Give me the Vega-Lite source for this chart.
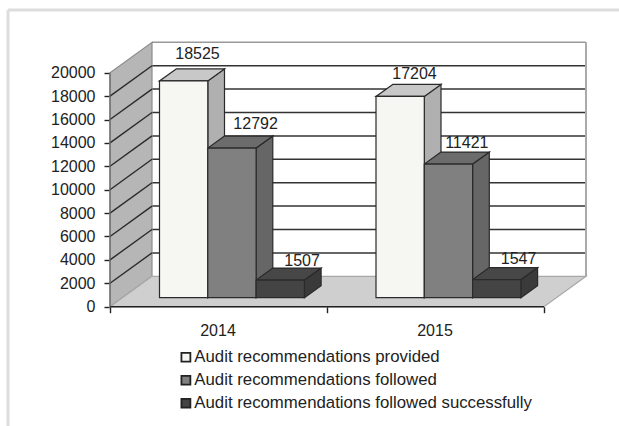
{
"$schema":"https://vega.github.io/schema/vega-lite/v6.json",
"width":619,"height":426,"padding":0,"autosize":{"type":"none"},"background":"#ffffff",
"config":{"view":{"stroke":null},"font":"Liberation Sans","text":{"font":"Liberation Sans"}},
"datasets":{
"bars":[
{"year":"2014","series":"Audit recommendations provided","value":18525},
{"year":"2014","series":"Audit recommendations followed","value":12792},
{"year":"2014","series":"Audit recommendations followed successfully","value":1507},
{"year":"2015","series":"Audit recommendations provided","value":17204},
{"year":"2015","series":"Audit recommendations followed","value":11421},
{"year":"2015","series":"Audit recommendations followed successfully","value":1547}
],
"ticks":[{"t":2000},{"t":4000},{"t":6000},{"t":8000},{"t":10000},{"t":12000},{"t":14000},{"t":16000},{"t":18000},{"t":20000}],
"depth":[{"d":0},{"d":1}]
},
"layer":[
{"data":{"name":"ticks"},"transform":[{"calculate":"datum.t+2598","as":"t2"},{"filter":"datum.t<20000"}],
 "mark":{"type":"rule","color":"#333333","strokeWidth":1.5},
 "encoding":{
  "x":{"datum":152,"type":"quantitative","scale":{"domain":[0,619],"nice":false,"zero":false},
    "axis":{"values":[110,327,544],"offset":-119.3,"orient":"bottom","domain":false,"grid":false,"labels":false,"tickSize":6,"tickColor":"#222222","tickWidth":1.4,"title":null}},
  "x2":{"datum":586},
  "y":{"field":"t2","type":"quantitative","scale":{"domain":[-10197,26214],"nice":false,"zero":false},
    "axis":{"values":[0,2000,4000,6000,8000,10000,12000,14000,16000,18000,20000],"format":"d","offset":-110,"orient":"left","domain":false,"grid":false,"tickSize":6,"tickColor":"#222222","tickWidth":1.4,"labelFontSize":16,"labelColor":"#222222","labelFont":"Liberation Sans","labelPadding":9,"title":null}}
 }},
{"mark":{"type":"rule","color":"#dddddd","strokeWidth":3},"data":{"values":[{"a":1}]},
 "encoding":{"x":{"datum":8,"type":"quantitative"},"y":{"datum":25359,"type":"quantitative"},"y2":{"datum":-10197}}},
{"mark":{"type":"rule","color":"#dddddd","strokeWidth":3},"data":{"values":[{"a":1}]},
 "encoding":{"x":{"datum":8,"type":"quantitative"},"x2":{"datum":619},"y":{"datum":25359,"type":"quantitative"}}},
{"mark":{"type":"rule","color":"#999999","strokeWidth":1.5},"data":{"values":[{"a":1}]},
 "encoding":{"x":{"datum":152,"type":"quantitative"},"x2":{"datum":586},"y":{"datum":22598,"type":"quantitative"}}},
{"mark":{"type":"rule","color":"#aaaaaa","strokeWidth":2},"data":{"values":[{"a":1}]},
 "encoding":{"x":{"datum":586,"type":"quantitative"},"y":{"datum":2598,"type":"quantitative"},"y2":{"datum":22598}}},
{"data":{"name":"depth"},"transform":[{"calculate":"110+datum.d*42","as":"x"},{"calculate":"datum.d*2598","as":"y0"},{"calculate":"20000+datum.d*2598","as":"y1"}],
 "mark":{"type":"area","orient":"vertical","fill":"#b6b6b6","stroke":"#8c8c8c","strokeWidth":1.2},
 "encoding":{"x":{"field":"x","type":"quantitative"},"y":{"field":"y0","type":"quantitative","stack":null},"y2":{"field":"y1"}}},
{"data":{"name":"depth"},"transform":[{"calculate":"110+datum.d*42","as":"x0"},{"calculate":"544+datum.d*42","as":"x1"},{"calculate":"datum.d*2598","as":"y"}],
 "mark":{"type":"area","orient":"horizontal","fill":"#cfcfcf","stroke":"#a8a8a8","strokeWidth":1.2},
 "encoding":{"y":{"field":"y","type":"quantitative"},"x":{"field":"x0","type":"quantitative","stack":null},"x2":{"field":"x1"}}},
{"data":{"name":"ticks"},"transform":[{"calculate":"datum.t+2598","as":"t2"},{"filter":"datum.t<20000"}],
 "mark":{"type":"rule","color":"#2a2a2a","strokeWidth":1.4},
 "encoding":{"x":{"datum":110,"type":"quantitative"},"x2":{"datum":152},"y":{"field":"t","type":"quantitative"},"y2":{"field":"t2"}}},
{"mark":{"type":"rule","color":"#222222","strokeWidth":1.4},"data":{"values":[{"a":1}]},
 "encoding":{"x":{"datum":110,"type":"quantitative"},"x2":{"datum":544},"y":{"datum":0,"type":"quantitative"}}},
{"mark":{"type":"rule","color":"#666666","strokeWidth":1.2},"data":{"values":[{"a":1}]},
 "encoding":{"x":{"datum":110,"type":"quantitative"},"y":{"datum":0,"type":"quantitative"},"y2":{"datum":20000}}},
{"data":{"name":"bars"},
 "transform":[
  {"calculate":"indexof(['Audit recommendations provided','Audit recommendations followed','Audit recommendations followed successfully'],datum.series)","as":"s"},
  {"calculate":"datum.year=='2014'?0:1","as":"g"},
  {"calculate":"159.5+datum.g*216.5+datum.s*48.3","as":"left"},
  {"calculate":"['#b0b0b0','#666666','#3a3a3a'][datum.s]","as":"sideC"},
  {"calculate":"[0,1]","as":"d"},{"flatten":["d"]},
  {"calculate":"datum.left+48.3+datum.d*16.7","as":"sx"},
  {"calculate":"769+datum.d*1026","as":"sy0"},
  {"calculate":"datum.value+769+datum.d*1026","as":"sy1"},
  {"calculate":"datum.year+datum.series","as":"id"}
 ],
 "mark":{"type":"area","orient":"vertical","stroke":"#2a2a2a","strokeWidth":1.2},
 "encoding":{"x":{"field":"sx","type":"quantitative"},"y":{"field":"sy0","type":"quantitative","stack":null},"y2":{"field":"sy1"},"detail":{"field":"id"},"fill":{"field":"sideC","type":"nominal","scale":null}}},
{"data":{"name":"bars"},
 "transform":[
  {"calculate":"indexof(['Audit recommendations provided','Audit recommendations followed','Audit recommendations followed successfully'],datum.series)","as":"s"},
  {"calculate":"datum.year=='2014'?0:1","as":"g"},
  {"calculate":"159.5+datum.g*216.5+datum.s*48.3","as":"left"},
  {"calculate":"['#c8c8c8','#6c6c6c','#474747'][datum.s]","as":"topC"},
  {"calculate":"[0,1]","as":"d"},{"flatten":["d"]},
  {"calculate":"datum.value+769+datum.d*1026","as":"ty"},
  {"calculate":"datum.left+datum.d*16.7","as":"tx0"},
  {"calculate":"datum.tx0+48.3","as":"tx1"},
  {"calculate":"datum.year+datum.series","as":"id"}
 ],
 "mark":{"type":"area","orient":"horizontal","stroke":"#2a2a2a","strokeWidth":1.2},
 "encoding":{"y":{"field":"ty","type":"quantitative"},"x":{"field":"tx0","type":"quantitative","stack":null},"x2":{"field":"tx1"},"detail":{"field":"id"},"fill":{"field":"topC","type":"nominal","scale":null}}},
{"data":{"name":"bars"},
 "transform":[
  {"calculate":"indexof(['Audit recommendations provided','Audit recommendations followed','Audit recommendations followed successfully'],datum.series)","as":"s"},
  {"calculate":"datum.year=='2014'?0:1","as":"g"},
  {"calculate":"159.5+datum.g*216.5+datum.s*48.3","as":"left"},
  {"calculate":"datum.left+48.3","as":"right"},
  {"calculate":"769","as":"base"},
  {"calculate":"datum.value+769","as":"top"}
 ],
 "mark":{"type":"rect","stroke":"#2a2a2a","strokeWidth":1.2},
 "encoding":{"x":{"field":"left","type":"quantitative"},"x2":{"field":"right"},"y":{"field":"base","type":"quantitative"},"y2":{"field":"top"},
  "color":{"field":"series","type":"nominal","scale":{"domain":["Audit recommendations provided","Audit recommendations followed","Audit recommendations followed successfully"],"range":["#f6f6f3","#808080","#444444"]},
   "legend":{"title":null,"orient":"none","legendX":177.5,"legendY":348.5,"symbolType":"square","symbolSize":80,"symbolStrokeColor":"#222222","symbolStrokeWidth":1.8,"symbolOpacity":1,"labelFontSize":16.8,"labelColor":"#222222","labelFont":"Liberation Sans","rowPadding":5,"labelOffset":0,"labelLimit":400,"clipHeight":17.5,
    "encoding":{"symbols":{"fill":{"signal":"datum.value==='Audit recommendations followed'?{gradient:'linear',x1:0,y1:1,x2:1,y2:0,stops:[{offset:0,color:'#333333'},{offset:0.3,color:'#333333'},{offset:0.3,color:'#eeeeee'},{offset:0.46,color:'#eeeeee'},{offset:0.46,color:'#333333'},{offset:0.62,color:'#333333'},{offset:0.62,color:'#eeeeee'},{offset:0.78,color:'#eeeeee'},{offset:0.78,color:'#333333'},{offset:1,color:'#333333'}]}:(datum.value==='Audit recommendations provided'?'#ffffff':'#333333')"}}}}}}},
{"data":{"name":"bars"},
 "transform":[
  {"calculate":"indexof(['Audit recommendations provided','Audit recommendations followed','Audit recommendations followed successfully'],datum.series)","as":"s"},
  {"calculate":"datum.year=='2014'?0:1","as":"g"},
  {"calculate":"159.5+datum.g*216.5+datum.s*48.3","as":"left"},
  {"calculate":"{'18525':[38,15],'12792':[47.8,12.5],'1507':[46,7],'17204':[38.5,10.7],'11421':[42.5,9],'1547':[46,9]}[datum.value]","as":"o"},
  {"calculate":"datum.left+datum.o[0]","as":"lx"},
  {"calculate":"datum.value+769+1026+datum.o[1]/0.0117","as":"ly"}
 ],
 "mark":{"type":"text","fontSize":16,"color":"#222222","baseline":"middle","align":"center"},
 "encoding":{"x":{"field":"lx","type":"quantitative"},"y":{"field":"ly","type":"quantitative"},"text":{"field":"value","type":"nominal"}}},
{"data":{"name":"bars"},"transform":[{"filter":"datum.series=='Audit recommendations provided'"},{"calculate":"datum.year=='2014'?218:435","as":"cx"}],
 "mark":{"type":"text","fontSize":16,"color":"#222222","baseline":"middle","align":"center"},
 "encoding":{"x":{"field":"cx","type":"quantitative"},"y":{"datum":-2077,"type":"quantitative"},"text":{"field":"year","type":"nominal"}}}
]
}
